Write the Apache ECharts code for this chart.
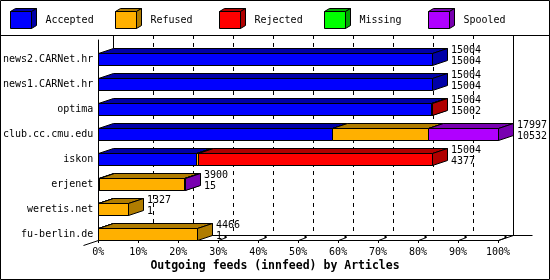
<!DOCTYPE html>
<html><head><meta charset="utf-8">
<script src="https://cdn.jsdelivr.net/npm/echarts@6/dist/echarts.min.js"></script>
<style>html,body{margin:0;padding:0;background:#fff}#c{width:550px;height:280px}</style>
</head><body><div id="c"></div>
<script>
const categories = ['news2.CARNet.hr','news1.CARNet.hr','optima','club.cc.cmu.edu','iskon','erjenet','weretis.net','fu-berlin.de'];
const accepted = [15004, 15004, 15002, 10532, 4377, 15, 1, 1];
const refused  = [0, 0, 0, 4316, 100, 3840, 1326, 4465];
const rejected = [0, 0, 2, 0, 10527, 0, 0, 0];
const missing  = [0, 0, 0, 0, 0, 0, 0, 0];
const spooled  = [0, 0, 0, 3149, 0, 45, 0, 0];
const totals   = [15004, 15004, 15004, 17997, 15004, 3900, 1327, 4466];
const seriesNames  = ['Accepted','Refused','Rejected','Missing','Spooled'];
const seriesColors = ['#0000ff','#ffb000','#ff0000','#00ff00','#b000ff'];
const shadeColors  = ['#0000a8','#b07c00','#b00000','#00a800','#7800b0'];
const xTicks = [0,10,20,30,40,50,60,70,80,90,100];
const titleText = 'Outgoing feeds (innfeed) by Articles';

const FAM = '"DejaVu Sans Mono", monospace';
const FONT = '10px ' + FAM;
const DX = 15, DY = -5;
const layers = [accepted, refused, rejected, missing, spooled];
const maxTotal = Math.max(...totals);
const pct = v => v / maxTotal * 100;
const px = v => Math.round(v) + 0.5;

const barSeries = seriesNames.map((name, k) => {
  const data = categories.map((c, i) => {
    let start = 0;
    for (let j = 0; j < k; j++) start += layers[j][i];
    return [pct(start), pct(start + layers[k][i]), i, layers[k][i]];
  });
  return {
    type: 'custom', name, z: 10, xAxisIndex: 0, yAxisIndex: 0,
    encode: {x: [0, 1], y: 2},
    data,
    renderItem(params, api) {
      if (api.value(3) <= 0) return {type: 'group', children: []};
      const p0 = api.coord([api.value(0), api.value(2)]);
      const p1 = api.coord([api.value(1), api.value(2)]);
      const x0 = px(p0[0]), x1 = px(p1[0]);
      const c = p0[1];
      const yT = px(c + 0.5), yB = px(c + 12.5);
      const st = (f) => ({fill: f, stroke: '#000', lineWidth: 1});
      return {type: 'group', children: [
        {type: 'polygon', shape: {points: [[x0, yT], [x1, yT], [x1, yB], [x0, yB]]}, style: st(seriesColors[k])},
        {type: 'polygon', shape: {points: [[x0, yT], [x0 + DX, yT + DY], [x1 + DX, yT + DY], [x1, yT]]}, style: st(shadeColors[k])},
        {type: 'polygon', shape: {points: [[x1, yT], [x1 + DX, yT + DY], [x1 + DX, yB + DY], [x1, yB]]}, style: st(shadeColors[k])}
      ]};
    }
  };
});

const labelSeries = {
  type: 'custom', name: 'labels', z: 12, xAxisIndex: 0, yAxisIndex: 0,
  encode: {x: 0, y: 1},
  data: categories.map((c, i) => [pct(totals[i]), i, totals[i], accepted[i]]),
  renderItem(params, api) {
    const p = api.coord([api.value(0), api.value(1)]);
    const x = Math.round(p[0]) + DX + 4;
    const c = p[1];
    const mk = (t, y) => ({type: 'text', x: x, y: y,
      style: {text: String(t), font: FONT, fill: '#000', textAlign: 'left', textVerticalAlign: 'middle', align: 'left', verticalAlign: 'middle'}});
    return {type: 'group', children: [mk(api.value(2), c - 2.5), mk(api.value(3), c + 8.5)]};
  }
};

const frameSeries = {
  type: 'custom', name: 'frame', z: 1, xAxisIndex: 0, yAxisIndex: 0,
  silent: true,
  data: [[0, 0]],
  renderItem(params, api) {
    const cs = params.coordSys;
    const top = cs.y, bottom = cs.y + cs.height;
    const ln = (x1, y1, x2, y2, dash) => ({type: 'line', shape: {x1, y1, x2, y2},
      style: {stroke: '#000', lineWidth: 1, lineDash: dash || null}});
    const ch = [];
    const X = t => api.coord([t, 0])[0];
    xTicks.forEach(t => {
      if (t > 0 && t < 100) {
        const x = px(X(t) + DX);
        ch.push(ln(x, top + DY, x, bottom + DY, [4, 4]));
      }
    });
    const xb0 = px(X(0) + DX), xb1 = px(X(100) + DX);
    const yb = px(bottom + DY), yf = px(bottom);
    ch.push(ln(xb1, top + DY, xb1, yb));
    ch.push(ln(xb0, yb, xb1 + 19, yb));
    ch.push(ln(xb0, top + DY, xb0, px(top + 8)));
    ch.push(ln(px(X(100)), yf, xb1, yb));
    ch.push(ln(px(X(0)) - 15, yf + 5, px(X(0)), yf));
    xTicks.forEach(t => {
      if (t > 0) {
        const x = px(X(t));
        ch.push(ln(x, yf, x + 8, yf - 3));
        ch.push({type: 'rect', shape: {x: x + 6, y: yf - 4.5, width: 2, height: 2}, style: {fill: '#000'}});
      }
    });
    return {type: 'group', children: ch};
  }
};

const graphics = [
  {type: 'rect', shape: {x: 0.5, y: 0.5, width: 549, height: 279}, style: {fill: 'none', stroke: '#000', lineWidth: 1}, z: 100},
  {type: 'line', shape: {x1: 0, y1: 35.5, x2: 550, y2: 35.5}, style: {stroke: '#000', lineWidth: 1}, z: 100}
];
seriesNames.forEach((n, i) => {
  const x0 = Math.round(10 + i * 104.5) + 0.5;
  const y0 = 11.5, w = 21, h = 17, dx = 5, dy = -3;
  const st = f => ({fill: f, stroke: '#000', lineWidth: 1});
  graphics.push({type: 'polygon', shape: {points: [[x0, y0], [x0 + w, y0], [x0 + w, y0 + h], [x0, y0 + h]]}, style: st(seriesColors[i]), z: 100});
  graphics.push({type: 'polygon', shape: {points: [[x0, y0], [x0 + dx, y0 + dy], [x0 + w + dx, y0 + dy], [x0 + w, y0]]}, style: st(shadeColors[i]), z: 100});
  graphics.push({type: 'polygon', shape: {points: [[x0 + w, y0], [x0 + w + dx, y0 + dy], [x0 + w + dx, y0 + h + dy], [x0 + w, y0 + h]]}, style: st(shadeColors[i]), z: 100});
  graphics.push({type: 'text', x: x0 + 35, y: 20, style: {text: n, font: FONT, fill: '#000', textVerticalAlign: 'middle', verticalAlign: 'middle'}, z: 100});
});

const chart = echarts.init(document.getElementById('c'), null, {renderer: 'canvas'});
chart.setOption({
  animation: false,
  backgroundColor: '#fff',
  title: {text: titleText, left: 'center', top: 260, padding: 0,
    textStyle: {fontFamily: FAM, fontWeight: 'bold', fontSize: 11.5, color: '#000'}},
  grid: {left: 98, right: 52, top: 40, bottom: 40, containLabel: false},
  xAxis: {type: 'value', min: 0, max: 100, interval: 10,
    axisLine: {show: true, lineStyle: {color: '#000', width: 1}},
    axisTick: {show: true, length: 3, lineStyle: {color: '#000'}},
    axisLabel: {formatter: '{value}%', fontFamily: FAM, fontSize: 10, color: '#000', margin: 7},
    splitLine: {show: false}},
  yAxis: {type: 'category', data: categories, inverse: true,
    axisLine: {show: true, lineStyle: {color: '#000', width: 1}},
    axisTick: {show: false},
    axisLabel: {fontFamily: FAM, fontSize: 10, color: '#000', margin: 5, verticalAlign: 'top', lineHeight: 13},
    splitLine: {show: false}},
  graphic: graphics,
  series: [frameSeries, ...barSeries, labelSeries]
});
</script></body></html>
